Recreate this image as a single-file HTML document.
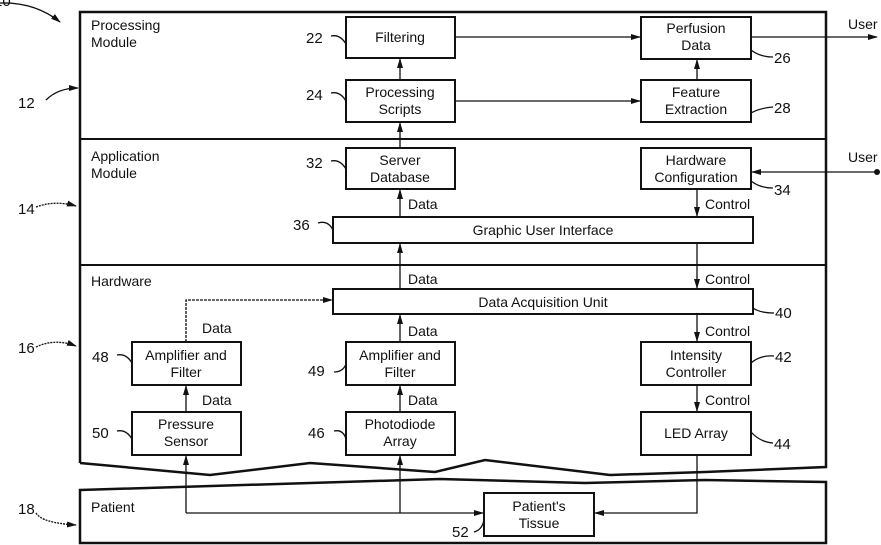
<!DOCTYPE html>
<html><head><meta charset="utf-8"><style>
html,body{margin:0;padding:0;background:#fff;}
svg{display:block;}
text{font-family:"Liberation Sans",sans-serif;font-size:14px;fill:#111;}
</style></head><body>
<svg width="881" height="545" viewBox="0 0 881 545" xmlns="http://www.w3.org/2000/svg">
<defs>
<marker id="a" markerWidth="10" markerHeight="8" refX="9" refY="4" orient="auto" markerUnits="userSpaceOnUse">
<path d="M0,1 L10,4 L0,7 Z" fill="#111"/></marker>
</defs>
<g fill="none" stroke="#111" stroke-width="2">
<!-- outer -->
<path d="M80,463 L80,12 L826,12 L826,467 L705,472 L610,475 L485,460 L435,472 L310,463 L210,475 L80,463" stroke-width="2.5"/>
<line x1="80" y1="139" x2="826" y2="139"/>
<line x1="80" y1="265" x2="826" y2="265"/>
<path d="M80,490 L310,483 L440,479 L585,483 L705,480 L826,482 L826,543 L80,543 Z" stroke-width="2.5"/>
<!-- boxes -->
<rect x="346" y="17" width="109" height="41"/>
<rect x="346" y="80" width="109" height="42"/>
<rect x="641" y="17" width="110" height="42"/>
<rect x="641" y="80" width="110" height="42"/>
<rect x="346" y="148" width="109" height="41"/>
<rect x="641" y="148" width="110" height="41"/>
<rect x="333" y="217" width="420" height="26"/>
<rect x="333" y="289" width="420" height="25"/>
<rect x="132" y="342" width="109" height="43"/>
<rect x="346" y="342" width="109" height="43"/>
<rect x="641" y="342" width="110" height="43"/>
<rect x="132" y="412" width="109" height="43"/>
<rect x="346" y="412" width="109" height="43"/>
<rect x="641" y="412" width="110" height="43"/>
<rect x="484" y="493" width="110" height="43"/>
</g>
<g fill="none" stroke="#111" stroke-width="1.3">
<line x1="455" y1="37" x2="640" y2="37" marker-end="url(#a)"/>
<line x1="455" y1="101" x2="640" y2="101" marker-end="url(#a)"/>
<line x1="697" y1="80" x2="697" y2="60" marker-end="url(#a)"/>
<line x1="751" y1="37" x2="877" y2="37" marker-end="url(#a)"/>
<line x1="877" y1="172" x2="752" y2="172" marker-end="url(#a)"/>
<line x1="400" y1="80" x2="400" y2="59" marker-end="url(#a)"/>
<line x1="400" y1="148" x2="400" y2="123" marker-end="url(#a)"/>
<line x1="400" y1="217" x2="400" y2="190" marker-end="url(#a)"/>
<line x1="400" y1="289" x2="400" y2="244" marker-end="url(#a)"/>
<line x1="400" y1="342" x2="400" y2="315" marker-end="url(#a)"/>
<line x1="400" y1="412" x2="400" y2="386" marker-end="url(#a)"/>
<line x1="697" y1="189" x2="697" y2="216" marker-end="url(#a)"/>
<line x1="697" y1="243" x2="697" y2="288" marker-end="url(#a)"/>
<line x1="697" y1="314" x2="697" y2="341" marker-end="url(#a)"/>
<line x1="697" y1="385" x2="697" y2="411" marker-end="url(#a)"/>
<line x1="186" y1="412" x2="186" y2="386" marker-end="url(#a)"/>
<polyline points="186,342 186,300 332,300" stroke-dasharray="3,1" marker-end="url(#a)"/>
<line x1="186" y1="513" x2="483" y2="513" marker-end="url(#a)"/>
<line x1="186" y1="513" x2="186" y2="456" marker-end="url(#a)"/>
<line x1="400" y1="513" x2="400" y2="456" marker-end="url(#a)"/>
<polyline points="697,455 697,513 595,513" marker-end="url(#a)"/>
<!-- leaders -->
<path d="M0,3 Q35,2 60,22" marker-end="url(#a)"/>
<path d="M46,100 Q58,88 78,88" marker-end="url(#a)"/>
<path d="M36,207 Q55,200 76,206" stroke-dasharray="2,1" marker-end="url(#a)"/>
<path d="M36,347 Q55,338 76,346" stroke-dasharray="2,1" marker-end="url(#a)"/>
<path d="M36,513 Q42,523 76,525" stroke-dasharray="2,1" marker-end="url(#a)"/>
<path d="M331,36 Q340,34 346,44"/><path d="M331,93 Q340,91 346,101"/>
<path d="M331,161 Q340,159 346,169"/><path d="M318,223 Q328,220 333,230"/>
<path d="M117,355 Q126,353 132,363"/><path d="M117,431 Q126,429 132,439"/>
<path d="M334,372 Q343,372 346,364"/><path d="M334,431 Q343,429 346,439"/>
<path d="M474,532 Q482,530 484,520"/>
<path d="M751,50 Q760,57 773,57"/><path d="M751,113 Q760,108 773,107"/>
<path d="M751,181 Q760,188 773,188"/><path d="M753,308 Q760,313 774,313"/>
<path d="M751,363 Q760,355 774,356"/><path d="M751,432 Q760,442 773,443"/>
</g>
<circle cx="877" cy="172" r="3" fill="#111"/>
<g text-anchor="middle">
<text x="400" y="42">Filtering</text>
<text x="400" y="97">Processing</text><text x="400" y="114">Scripts</text>
<text x="696" y="33">Perfusion</text><text x="696" y="50">Data</text>
<text x="696" y="97">Feature</text><text x="696" y="114">Extraction</text>
<text x="400" y="165">Server</text><text x="400" y="182">Database</text>
<text x="696" y="165">Hardware</text><text x="696" y="182">Configuration</text>
<text x="543" y="235">Graphic User Interface</text>
<text x="543" y="307">Data Acquisition Unit</text>
<text x="186" y="360">Amplifier and</text><text x="186" y="377">Filter</text>
<text x="400" y="360">Amplifier and</text><text x="400" y="377">Filter</text>
<text x="696" y="360">Intensity</text><text x="696" y="377">Controller</text>
<text x="186" y="429">Pressure</text><text x="186" y="446">Sensor</text>
<text x="400" y="429">Photodiode</text><text x="400" y="446">Array</text>
<text x="696" y="438">LED Array</text>
<text x="539" y="511">Patient's</text><text x="539" y="528">Tissue</text>
</g>
<text x="91" y="30">Processing</text><text x="91" y="47">Module</text>
<text x="91" y="161">Application</text><text x="91" y="178">Module</text>
<text x="91" y="286">Hardware</text>
<text x="91" y="512">Patient</text>
<text x="848" y="29">User</text><text x="848" y="162">User</text>
<text x="408" y="209">Data</text><text x="705" y="209">Control</text>
<text x="408" y="284">Data</text><text x="705" y="284">Control</text>
<text x="408" y="336">Data</text><text x="705" y="336">Control</text>
<text x="408" y="405">Data</text><text x="705" y="405">Control</text>
<text x="202" y="333">Data</text><text x="202" y="405">Data</text>
<g font-size="15">
<text x="-6" y="6" style="font-size:15px">10</text>
<text x="18" y="108" style="font-size:15px">12</text>
<text x="18" y="214" style="font-size:15px">14</text>
<text x="18" y="353" style="font-size:15px">16</text>
<text x="18" y="514" style="font-size:15px">18</text>
<text x="306" y="43" style="font-size:15px">22</text>
<text x="306" y="100" style="font-size:15px">24</text>
<text x="306" y="168" style="font-size:15px">32</text>
<text x="293" y="230" style="font-size:15px">36</text>
<text x="92" y="362" style="font-size:15px">48</text>
<text x="92" y="438" style="font-size:15px">50</text>
<text x="308" y="376" style="font-size:15px">49</text>
<text x="308" y="438" style="font-size:15px">46</text>
<text x="452" y="537" style="font-size:15px">52</text>
<text x="774" y="63" style="font-size:15px">26</text>
<text x="774" y="113" style="font-size:15px">28</text>
<text x="774" y="195" style="font-size:15px">34</text>
<text x="775" y="318" style="font-size:15px">40</text>
<text x="775" y="362" style="font-size:15px">42</text>
<text x="774" y="449" style="font-size:15px">44</text>
</g>
</svg>
</body></html>
